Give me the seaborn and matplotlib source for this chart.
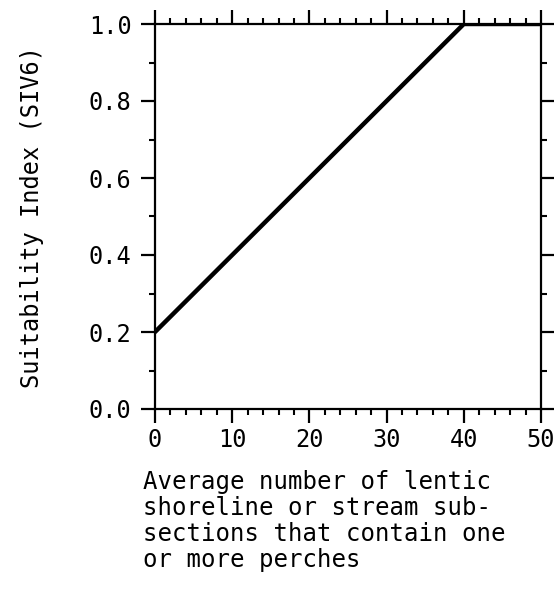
import matplotlib
matplotlib.use("Agg")
import matplotlib.pyplot as plt
import seaborn as sns
import pandas as pd
from matplotlib.ticker import MultipleLocator

x_vals = [0, 40, 50]
y_vals = [0.2, 1.0, 1.0]
xticks = [0, 10, 20, 30, 40, 50]
yticks = [0.0, 0.2, 0.4, 0.6, 0.8, 1.0]
ylabel = "Suitability Index (SIV6)"
xlabel = "Average number of lentic\nshoreline or stream sub-\nsections that contain one\nor more perches"

sns.set_theme(style="white")
plt.rcParams['font.family'] = ['DejaVu Sans Mono']

fig = plt.figure(figsize=(5.54, 6.02), dpi=100)
W, H = 554, 602
ax = fig.add_axes([155 / W, 1 - 409 / H, (541 - 155) / W, (409 - 24) / H])

df = pd.DataFrame({"x": x_vals, "y": y_vals})
sns.lineplot(data=df, x="x", y="y", ax=ax, color="black", linewidth=3.2)

ax.set_xlim(0, 50)
ax.set_ylim(0, 1.0)
ax.set_xticks(xticks)
ax.set_xticklabels([str(t) for t in xticks])
ax.set_yticks(yticks)
ax.set_yticklabels([f"{t:.1f}" for t in yticks])
ax.xaxis.set_minor_locator(MultipleLocator(2))
ax.yaxis.set_minor_locator(MultipleLocator(0.1))

for s in ax.spines.values():
    s.set_linewidth(1.6)
    s.set_color("black")

ax.tick_params(axis="both", which="major", direction="out", length=10, width=1.6,
               labelsize=17, colors="black", top=True, right=True,
               bottom=True, left=True, pad=4)
ax.tick_params(axis="both", which="minor", direction="out", length=4.5, width=1.5,
               top=True, right=True, bottom=True, left=True, colors="black")
ax.tick_params(axis="y", which="major", pad=7)
ax.tick_params(axis="x", which="major", pad=4)

ax.set_xlabel("")
ax.set_ylabel(ylabel, fontsize=17, labelpad=32, color="black")

fig.text(143 / W, 1 - 470 / H, xlabel, ha="left", va="top", fontsize=17.3,
         color="black", linespacing=1.1)

fig.savefig("out.png", dpi=100, facecolor="white")
